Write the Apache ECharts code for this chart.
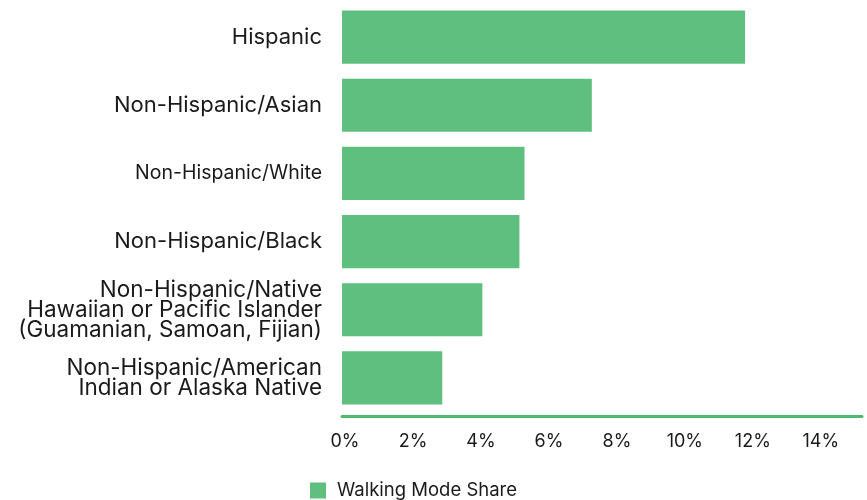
<!DOCTYPE html>
<html lang="en">
<head>
  <meta charset="UTF-8">
  <title>Walking Mode Share</title>
  <script src="https://cdn.jsdelivr.net/npm/echarts@6.0.0/dist/echarts.min.js"></script>
</head>
<body style="margin: 0; background: #fff">
  <div id="main" style="width: 867px; height: 500px"></div>
  <script>
    // data
    var categories = [
      'Hispanic',
      'Non-Hispanic/Asian',
      'Non-Hispanic/White',
      'Non-Hispanic/Black',
      'Non-Hispanic/Native\nHawaiian or Pacific Islander\n(Guamanian, Samoan, Fijian)',
      'Non-Hispanic/American\nIndian or Alaska Native'
    ];
    var walkingShare = [11.86, 7.35, 5.37, 5.22, 4.13, 2.95];
    // label sizes differ in the original
    var labelStyle = ['big', 'big', 'small', 'big', 'mid', 'mid'];

    var chart = echarts.init(document.getElementById('main'));

    var option = {
      textStyle: { fontFamily: 'Inter, sans-serif', color: '#1a1a1a' },
      animation: false,
      legend: {
        left: 305,
        top: 476,
        itemWidth: 16,
        itemHeight: 16,
        itemGap: 12,
        icon: 'rect',
        textStyle: { fontSize: 18.5, color: '#1a1a1a', padding: [0, 0, 0, 6] },
        data: ['Walking Mode Share']
      },
      grid: { left: 342, right: 5, top: 3, bottom: 88 },
      xAxis: {
        type: 'value',
        min: 0,
        max: 15.3,
        interval: 2,
        offset: 4,
        axisLine: { show: true, lineStyle: { color: '#4db870', width: 3 } },
        axisTick: { show: false },
        splitLine: { show: false },
        axisLabel: {
          showMaxLabel: false,
          margin: 17,
          fontSize: 18,
          color: '#1a1a1a',
          padding: [0, 0, 0, 6],
          formatter: '{value}%'
        }
      },
      yAxis: {
        type: 'category',
        inverse: true,
        data: categories,
        axisLine: { show: false },
        axisTick: { show: false },
        axisLabel: {
          margin: 20,
          color: '#1a1a1a',
          formatter: function (v, i) {
            return v.split('\n').map(function (s) {
              return '{' + labelStyle[i] + '|' + s + '}';
            }).join('\n');
          },
          rich: {
            big: { fontSize: 22, lineHeight: 24, color: '#1a1a1a', align: 'right' },
            mid: { fontSize: 22.5, lineHeight: 20, color: '#1a1a1a', align: 'right' },
            small: { fontSize: 19.5, lineHeight: 22, color: '#1a1a1a', align: 'right' }
          }
        }
      },
      series: [{
        name: 'Walking Mode Share',
        type: 'bar',
        data: walkingShare,
        barCategoryGap: '22%',
        itemStyle: { color: '#5ebf7e' }
      }]
    };

    chart.setOption(option);
  </script>
</body>
</html>
